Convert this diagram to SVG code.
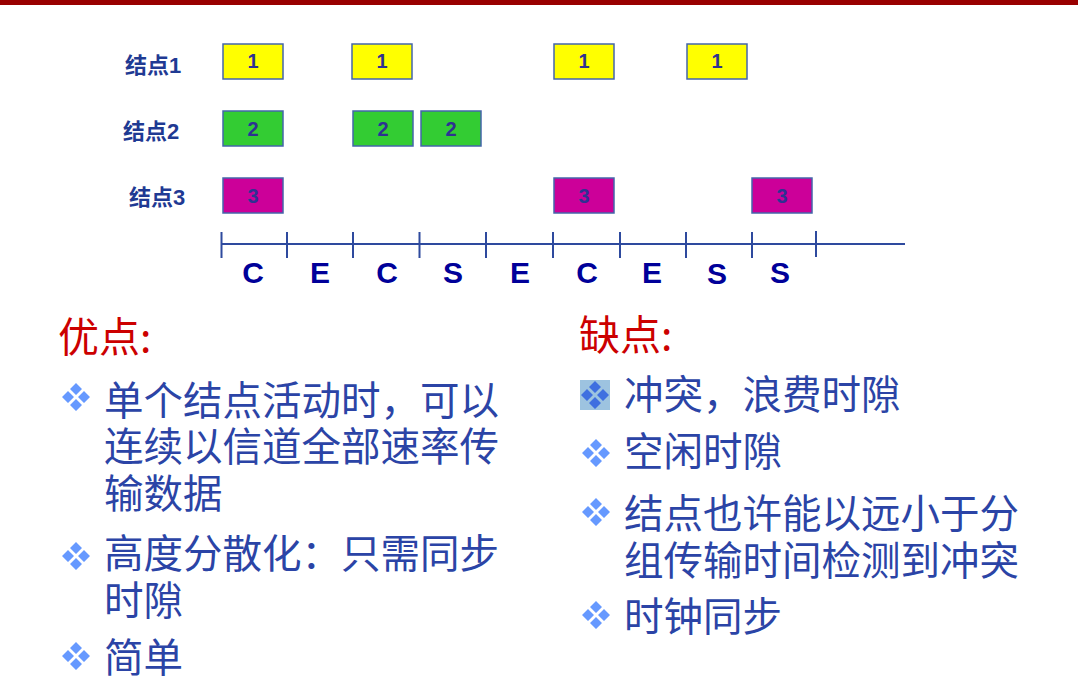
<svg xmlns="http://www.w3.org/2000/svg" xmlns:xlink="http://www.w3.org/1999/xlink" width="1078" height="693" viewBox="0 0 1078 693">
<style>
.lbl{font-family:"Liberation Sans","Noto Sans CJK SC",sans-serif;font-weight:bold;font-size:22px;fill:#1F3A93}
.box{stroke:#4466AA;stroke-width:1.5}
.y{fill:#FFFF00}.g{fill:#33CC33}.m{fill:#CC0099}
.num{font-family:"Liberation Sans",sans-serif;font-weight:bold;font-size:20px;fill:#2E3192;text-anchor:middle}
.axis{stroke:#2E4A9E;stroke-width:2;fill:none}
.slot{font-family:"Liberation Sans",sans-serif;font-weight:bold;font-size:30px;fill:#000099;text-anchor:middle}
.head{font-family:"Noto Sans CJK SC",sans-serif;font-size:41px;fill:#CC0000}
.txt{font-family:"Noto Sans CJK SC",sans-serif;font-size:39.5px;fill:#2B44A6}
</style>
<defs>
<g id="bul">
<path d="M0,-14 l6,6 l-6,6 l-6,-6z M-8,-6 l6,6 l-6,6 l-6,-6z M8,-6 l6,6 l-6,6 l-6,-6z M0,2 l6,6 l-6,6 l-6,-6z"/>
</g>
</defs>
<rect x="0" y="0" width="1078" height="5" fill="#990000"/>

<g id="node1">
<text class="lbl" x="125" y="73">结点1</text>
<rect class="box y" x="223" y="44" width="60" height="35"/><text class="num" x="253" y="68">1</text>
<rect class="box y" x="352" y="44" width="60" height="35"/><text class="num" x="382" y="68">1</text>
<rect class="box y" x="554" y="44" width="60" height="35"/><text class="num" x="584" y="68">1</text>
<rect class="box y" x="687" y="44" width="60" height="35"/><text class="num" x="717" y="68">1</text>
</g>
<g id="node2">
<text class="lbl" x="123" y="139">结点2</text>
<rect class="box g" x="223" y="111" width="60" height="35"/><text class="num" x="253" y="136">2</text>
<rect class="box g" x="353" y="111" width="60" height="35"/><text class="num" x="383" y="136">2</text>
<rect class="box g" x="421" y="111" width="60" height="35"/><text class="num" x="451" y="136">2</text>
</g>
<g id="node3">
<text class="lbl" x="129" y="205">结点3</text>
<rect class="box m" x="223" y="178" width="60" height="35"/><text class="num" x="253" y="203">3</text>
<rect class="box m" x="554" y="178" width="60" height="35"/><text class="num" x="584" y="203">3</text>
<rect class="box m" x="752" y="178" width="60" height="35"/><text class="num" x="782" y="203">3</text>
</g>

<g id="connectors">
<path class="axis" d="M221,244 H905 M221.5,232 V258 M287,232 V258 M353,232 V258 M419.5,232 V258 M486,232 V258 M553,232 V258 M620,232 V258 M686,232 V258 M752,232 V258 M816,231 V257"/>
</g>
<g id="slots">
<text class="slot" x="253" y="283">C</text>
<text class="slot" x="320" y="283">E</text>
<text class="slot" x="387" y="283">C</text>
<text class="slot" x="453" y="283">S</text>
<text class="slot" x="520" y="283">E</text>
<text class="slot" x="587" y="283">C</text>
<text class="slot" x="652" y="283">E</text>
<text class="slot" x="717" y="284">S</text>
<text class="slot" x="780" y="283">S</text>
</g>

<g id="pros">
<text class="head" x="58" y="352">优点:</text>
<use xlink:href="#bul" x="76" y="397" fill="#6699FF"/>
<text class="txt" x="104" y="415">单个结点活动时，可以</text>
<text class="txt" x="104" y="461">连续以信道全部速率传</text>
<text class="txt" x="104" y="508">输数据</text>
<use xlink:href="#bul" x="76" y="556" fill="#6699FF"/>
<text class="txt" x="104" y="568">高度分散化：只需同步</text>
<text class="txt" x="104" y="615">时隙</text>
<use xlink:href="#bul" x="76" y="656" fill="#6699FF"/>
<text class="txt" x="104" y="672">简单</text>
</g>

<g id="cons">
<text class="head" x="579" y="350">缺点:</text>
<rect x="580" y="380" width="30" height="30" fill="#9DC3E0"/>
<use xlink:href="#bul" x="595" y="395" fill="#3F6FE0"/>
<text class="txt" x="624" y="409">冲突，浪费时隙</text>
<use xlink:href="#bul" x="596" y="453" fill="#6699FF"/>
<text class="txt" x="624" y="466">空闲时隙</text>
<use xlink:href="#bul" x="596" y="512" fill="#6699FF"/>
<text class="txt" x="624" y="528">结点也许能以远小于分</text>
<text class="txt" x="624" y="575">组传输时间检测到冲突</text>
<use xlink:href="#bul" x="596" y="615" fill="#6699FF"/>
<text class="txt" x="624" y="631">时钟同步</text>
</g>
</svg>
